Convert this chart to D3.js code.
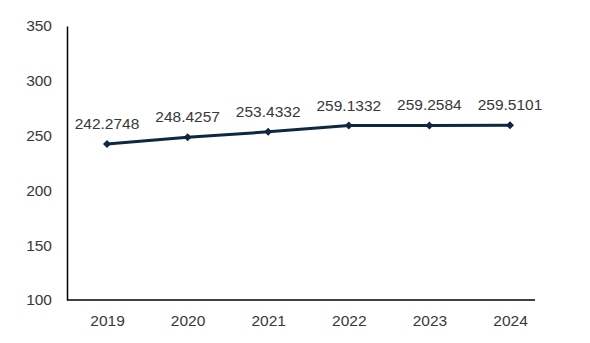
<!DOCTYPE html>
<html>
<head>
<meta charset="utf-8">
<script src="https://cdn.jsdelivr.net/npm/d3@7"></script>
<style>
  body { margin: 0; background: #fff; }
  text { font-family: "Liberation Sans", Arial, sans-serif; }
</style>
</head>
<body>
<svg id="chart" width="590" height="343"></svg>
<script>
var years = ['2019', '2020', '2021', '2022', '2023', '2024'];
var values = [242.2748, 248.4257, 253.4332, 259.1332, 259.2584, 259.5101];
var yTicks = [100, 150, 200, 250, 300, 350];

var svg = d3.select('#chart');
var textColor = '#383838';
var lineColor = '#0e2841';

var x = d3.scalePoint().domain(years).range([107, 510]);
var y = d3.scaleLinear().domain([100, 350]).range([300, 26]);

// y axis
var yAxis = svg.append('g')
  .attr('transform', 'translate(67,0)')
  .call(d3.axisLeft(y).tickValues(yTicks).tickSize(0).tickPadding(15));
yAxis.select('.domain').attr('stroke', '#000').attr('stroke-width', 1.5);
yAxis.selectAll('text').attr('font-size', 15.5).attr('fill', textColor)
  .attr('font-family', '"Liberation Sans", Arial, sans-serif');

// x axis
var xAxis = svg.append('g')
  .attr('transform', 'translate(0,300)')
  .call(d3.axisBottom(x).tickSize(0).tickPadding(15));
xAxis.select('.domain').remove();
xAxis.append('line')
  .attr('x1', 67).attr('x2', 535).attr('y1', 0).attr('y2', 0)
  .attr('stroke', '#000').attr('stroke-width', 1.5);
xAxis.selectAll('text').attr('font-size', 15.5).attr('fill', textColor)
  .attr('font-family', '"Liberation Sans", Arial, sans-serif');

var data = years.map(function(d, i) { return { year: d, value: values[i] }; });

svg.append('path')
  .datum(data)
  .attr('fill', 'none')
  .attr('stroke', lineColor)
  .attr('stroke-width', 3)
  .attr('d', d3.line()
    .x(function(d) { return x(d.year); })
    .y(function(d) { return y(d.value); }));

// diamond markers: rotated squares
svg.selectAll('.marker')
  .data(data)
  .enter()
  .append('path')
  .attr('class', 'marker')
  .attr('d', d3.symbol().type(d3.symbolSquare).size(32))
  .attr('fill', lineColor)
  .attr('transform', function(d) {
    return 'translate(' + x(d.year) + ',' + y(d.value) + ') rotate(45)';
  });

svg.selectAll('.label')
  .data(data)
  .enter()
  .append('text')
  .attr('class', 'label')
  .attr('x', function(d) { return x(d.year); })
  .attr('y', function(d) { return y(d.value) - 15; })
  .attr('text-anchor', 'middle')
  .attr('font-size', 15.5)
  .attr('fill', textColor)
  .text(function(d) { return d.value.toFixed(4); });
</script>
</body>
</html>
